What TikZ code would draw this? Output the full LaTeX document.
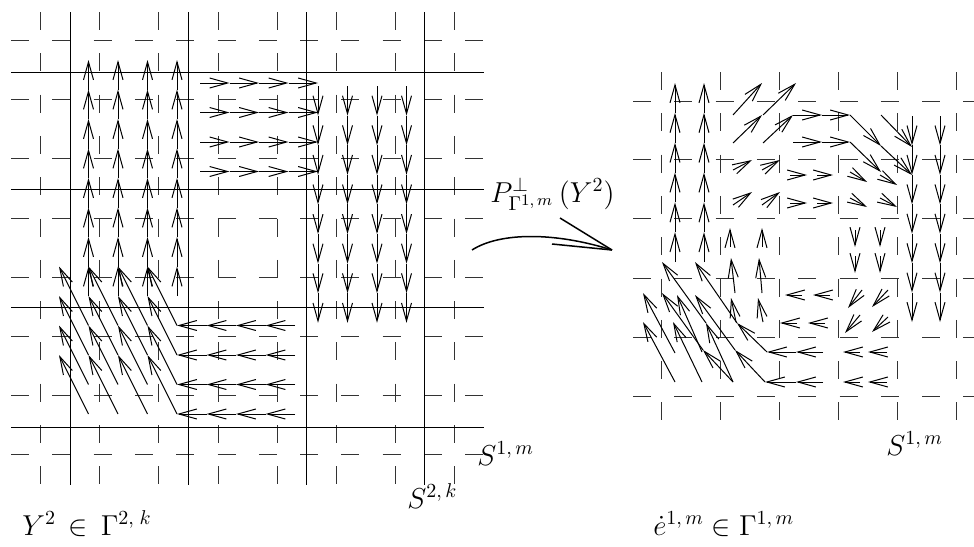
\documentclass[tikz,border=0pt]{standalone}
\usetikzlibrary{arrows.meta}
\DeclareMathSizes{13.5}{13.5}{10}{8}
\begin{document}
\begin{tikzpicture}[x=0.5pt,y=-0.5pt,
  fine/.style={line width=0.45pt, dash pattern=on 9pt off 11.65pt, black!80},
  coarse/.style={line width=0.5pt},
  vec/.style={line width=0.5pt, -{Straight Barb[length=9pt,width=5pt]}},
  lbl/.style={inner sep=0pt, font=\fontsize{13.5}{16}\selectfont}]
\useasboundingbox (0,0) rectangle (974,546);
\clip (0,0) rectangle (974,546);
% ---------- left panel grids ----------
\foreach \v in {40,99.5,158.5,218,277,336,395.5,454.5} {
  \draw[fine] (\v,12) -- (\v,486);
  \draw[fine] (11,\v) -- (484,\v);
}
\foreach \v in {70,188,306,424} \draw[coarse] (\v,12) -- (\v,485);
\foreach \v in {72,189,307,427} \draw[coarse] (11,\v) -- (484,\v);
% ---------- left panel vectors ----------
\foreach \x in {88.5,118,147.5,177} \foreach \k in {0,...,7}
  \draw[vec] (\x,{296-29.5*\k}) -- (\x,{296-29.5*(\k+1)});
\foreach \y in {83,112.5,142,171.5} \foreach \k in {0,...,3}
  \draw[vec] ({200+29.5*\k},\y) -- ({200+29.5*(\k+1)},\y);
\foreach \x in {318,347.5,377,406.5} \foreach \k in {0,...,7}
  \draw[vec] (\x,{86+29.6*\k}) -- (\x,{86+29.6*(\k+1)});
\foreach \y in {325.5,355,384.5,414} \foreach \k in {0,...,3}
  \draw[vec] ({295-29.5*\k},\y) -- ({295-29.5*(\k+1)},\y);
\foreach \x in {59,88.5,118,147.5} \foreach \y in {266.5,296,325.5,355}
  \draw[vec] ({\x+29.5},{\y+59}) -- (\x,\y);
% ---------- right panel grid ----------
\foreach \v in {661,720,779,838,897,956} \draw[fine] (\v,72) -- (\v,427);
\foreach \v in {101,159.5,218,278,337,396} \draw[fine] (633,\v) -- (990,\v);
% ---------- right panel vectors ----------
\foreach \x in {675,704} \foreach \k in {0,...,5}
  \draw[vec] (\x,{262-29.83*\k}) -- (\x,{262-29.83*(\k+1)});
\foreach \x in {912,940} \foreach \k in {0,...,6}
  \draw[vec] (\x,{116+29.43*\k}) -- (\x,{116+29.43*(\k+1)});
% up-right
\draw[vec] (733,115) -- (762,83);
\draw[vec] (763,115) -- (796,83);
\draw[vec] (733,143) -- (762,115);
\draw[vec] (763,143) -- (793,115);
\draw[vec] (733,170) -- (752,160);
\draw[vec] (762,170) -- (780,160);
\draw[vec] (733,205) -- (752,192);
\draw[vec] (762,205) -- (780,192);
% right and down-right
\draw[vec] (793,115) -- (822,115);
\draw[vec] (822,115) -- (850,115);
\draw[vec] (793,142) -- (822,142);
\draw[vec] (822,142) -- (850,142);
\draw[vec] (850,115) -- (881,146);
\draw[vec] (881,146) -- (912,175);
\draw[vec] (881,115) -- (912,147);
\draw[vec] (850,142) -- (881,172);
\draw[vec] (790,175) -- (807,175);
\draw[vec] (817,175) -- (833,175);
\draw[vec] (790,203) -- (807,203);
\draw[vec] (817,203) -- (833,203);
\draw[vec] (850,172) -- (867,182);
\draw[vec] (880,175) -- (897,185);
\draw[vec] (850,198) -- (867,207);
\draw[vec] (880,198) -- (897,207);
% small down and down-left
\draw[vec] (855,230) -- (855,247);
\draw[vec] (880,230) -- (880,247);
\draw[vec] (855,256) -- (855,273);
\draw[vec] (880,256) -- (880,273);
\draw[vec] (862,290) -- (848,308);
\draw[vec] (888,290) -- (872,307);
\draw[vec] (860,315) -- (845,333);
\draw[vec] (888,317) -- (872,332);
% left
\draw[vec] (802,295) -- (785,295);
\draw[vec] (830,295) -- (813,295);
\draw[vec] (797,323) -- (780,323);
\draw[vec] (825,323) -- (808,323);
\draw[vec] (860,352) -- (843,352);
\draw[vec] (887,352) -- (868,352);
\draw[vec] (860,382) -- (843,382);
\draw[vec] (887,382) -- (868,382);
\draw[vec] (823,352) -- (796,352);
\draw[vec] (796,352) -- (767,352);
\draw[vec] (823,382) -- (796,382);
\draw[vec] (796,382) -- (765,382);
% small up
\draw[vec] (730,247) -- (730,228);
\draw[vec] (762,247) -- (762,228);
\draw[vec] (735,293) -- (731,258);
\draw[vec] (762,293) -- (759,258);
\draw[vec] (736,322) -- (731,298);
\draw[vec] (763,322) -- (758,298);
% up-left
\draw[vec] (675,353) -- (643,293);
\draw[vec] (702,352) -- (677,295);
\draw[vec] (675,382) -- (643,322);
\draw[vec] (702,382) -- (673,322);
\draw[vec] (733,382) -- (706,323);
\draw[vec] (733,382) -- (703,350);
\draw[vec] (767,352) -- (737,323);
\draw[vec] (765,382) -- (735,350);
\draw[vec] (706,323) -- (662,262);
\draw[vec] (737,323) -- (695,262);
\draw[vec] (735,350) -- (695,295);
\draw[vec] (703,350) -- (662,293);
% ---------- projection arrow ----------
\coordinate (arcS) at (472,250);
\coordinate (arcE) at (612,250);
\draw[line width=0.75pt] (arcS) .. controls (500,232) and (555,232) .. (arcE);
\draw[line width=0.75pt] (arcE) -- (560,218);
\draw[line width=0.75pt] (arcE) -- (552,244);
% ---------- labels ----------
\node[lbl, anchor=base west] (pl) at (490,202) {$P^{\perp}_{\Gamma^{1,\,m}}\,(Y^2)$};
\node[lbl, anchor=base west] (y2) at (22,535) {$Y^2\,\in\,\Gamma^{2,\;k}$};
\node[lbl, anchor=base west] (s2k) at (407,508) {$S^{2,\,k}$};
\node[lbl, anchor=base west] (s1ml) at (477,465) {$S^{1,\,m}$};
\node[lbl, anchor=base west] (s1mr) at (886,455) {$S^{1,\,m}$};
\node[lbl, anchor=base west] (edot) at (653,535) {$\dot e^{1,\,m}\in\Gamma^{1,\,m}$};
\end{tikzpicture}
\end{document}
